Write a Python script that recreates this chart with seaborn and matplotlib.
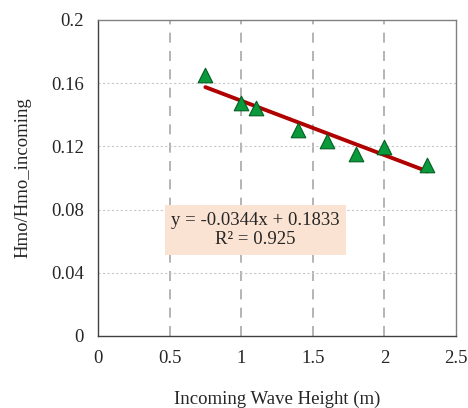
import numpy as np
import pandas as pd
import matplotlib
matplotlib.use("Agg")
import matplotlib.pyplot as plt
import seaborn as sns

# Data
wave_height = [0.75, 1.0, 1.1, 1.4, 1.6, 1.8, 2.0, 2.3]
hmo_ratio = [0.165, 0.1475, 0.1445, 0.1305, 0.1235, 0.1150, 0.1195, 0.1085]
slope = -0.0344
intercept = 0.1833
r2 = 0.925
x_ticks = [0, 0.5, 1, 1.5, 2, 2.5]
x_tick_labels = ["0", "0.5", "1", "1.5", "2", "2.5"]
y_ticks = [0, 0.04, 0.08, 0.12, 0.16, 0.2]
y_tick_labels = ["0", "0.04", "0.08", "0.12", "0.16", "0.2"]

df = pd.DataFrame({"x": wave_height, "y": hmo_ratio})
fit_x = np.array([min(wave_height), max(wave_height)])
fit_df = pd.DataFrame({"x": fit_x, "y": slope * fit_x + intercept})

sns.set_style("white")
plt.rcParams["font.family"] = ["Liberation Serif", "DejaVu Serif"]

fig = plt.figure(figsize=(4.68, 4.08), dpi=100)
ax = fig.add_axes([0.2094, 0.1765, 0.765, 0.7745])

sns.lineplot(data=fit_df, x="x", y="y", ax=ax, color="#B00000", linewidth=2.8, zorder=3)
sns.scatterplot(data=df, x="x", y="y", ax=ax, marker="^", s=110, color="#0A9A3C",
                edgecolor="#006020", linewidth=0.8, zorder=4)

ax.set_xlim(0, 2.5)
ax.set_ylim(0, 0.2)
ax.set_xticks(x_ticks)
ax.set_xticklabels(x_tick_labels)
ax.set_yticks(y_ticks)
ax.set_yticklabels(y_tick_labels)

for xv in x_ticks[1:-1]:
    ax.axvline(xv, color="#A8A8A8", linestyle=(0, (6, 5)), linewidth=1.2, zorder=1)
for yv in y_ticks[1:-1]:
    ax.axhline(yv, color="#C8C8C8", linestyle=(0, (2, 2)), linewidth=0.8, zorder=1)

for side in ["left", "bottom"]:
    ax.spines[side].set_color("#404040")
    ax.spines[side].set_linewidth(1.0)
for side in ["top", "right"]:
    ax.spines[side].set_color("#808080")
    ax.spines[side].set_linewidth(1.0)

ax.tick_params(axis="both", direction="out", length=4, width=0.8, color="#404040",
               labelsize=13.5, pad=6)
ax.tick_params(axis="x", pad=6)

ax.set_xlabel("Incoming Wave Height (m)", fontsize=13.5, labelpad=17)
ax.set_ylabel("Hmo/Hmo_incoming", fontsize=13.5, labelpad=14)

ax.text(1.1, 0.067, f"y = {slope}x + {intercept}\nR\u00b2 = {r2}", ha="center", va="center",
        fontsize=13.5, linespacing=1.2, zorder=5,
        bbox=dict(boxstyle="square,pad=0.35", facecolor="#FBE3D3", edgecolor="none"))

fig.savefig("out.png", dpi=100)
